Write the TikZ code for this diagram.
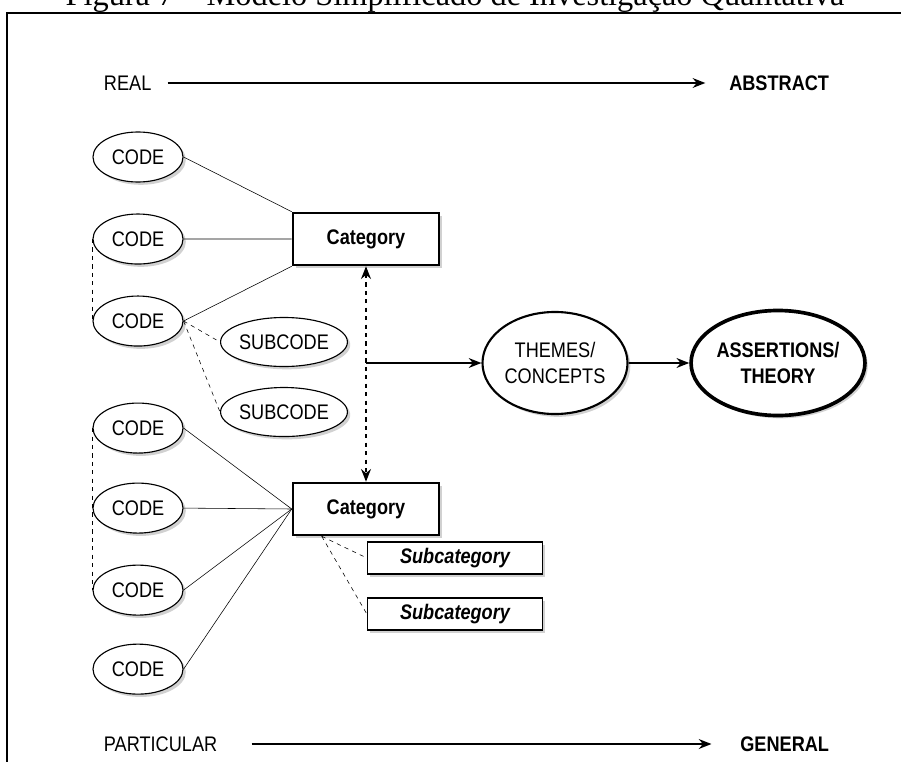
\documentclass[tikz,border=0pt]{standalone}
\usepackage{fontspec}
\setmainfont{Liberation Sans}[FakeStretch=0.86]
\newfontfamily\legendafont{Liberation Serif}
\usetikzlibrary{shapes.geometric,shadows,arrows.meta}

\begin{document}
\begin{tikzpicture}[x=0.025cm, y=-0.025cm, node distance=2.05cm,
    >={Stealth[length=9pt,width=7pt]},
    every node/.style={font=\fontsize{15}{18}\selectfont},
    shadowed/.style={drop shadow={shadow xshift=2pt, shadow yshift=-2pt, fill=black!18, opacity=1}},
    code/.style={ellipse, draw, fill=white, line width=0.8pt, minimum width=2.25cm, minimum height=1.25cm, inner sep=0pt, shadowed},
    subcode/.style={code, minimum width=2.8cm, minimum height=1.225cm},
    cat/.style={rectangle, draw, fill=white, line width=1.8pt, minimum width=3.65cm, minimum height=1.3cm, font=\fontsize{15}{18}\selectfont\bfseries, shadowed},
    subcat/.style={rectangle, draw, fill=white, line width=0.9pt, minimum width=4.375cm, minimum height=0.8cm, font=\fontsize{15}{18}\selectfont\bfseries\itshape, shadowed},
    idea/.style={ellipse, draw, fill=white, line width=1.5pt, inner sep=0pt, align=center, shadowed},
    axis/.style={->, line width=1.3pt}]

    \useasboundingbox (0,0) rectangle (901,762);
    \clip (0,0) rectangle (901,762);

    % caption and frame, cut off by the page
    \node (legenda) [anchor=base, font=\legendafont\fontsize{23}{26}\selectfont] at (455,6) {Figura 7 – Modelo Simplificado de Investigação Qualitativa};
    \draw[line width=1.4pt] (7,13) rectangle (960,820);

    % axes
    \node (real) [anchor=west] at (99,83) {REAL};
    \node (abstract) [anchor=east, font=\fontsize{15}{18}\selectfont\bfseries] at (834,83) {ABSTRACT};
    \node (particular) [anchor=west] at (99,744) {PARTICULAR};
    \node (general) [anchor=east, font=\fontsize{15}{18}\selectfont\bfseries] at (834,744) {GENERAL};
    \draw[axis, shorten <=8pt, shorten >=13.5pt] (real) -- (abstract);
    \draw[axis, shorten <=21pt, shorten >=17pt] (particular) -- (general);

    % codes
    \node (code1) [code] at (138,157) {CODE};
    \node (code2) [code, below of=code1] {CODE};
    \node (code3) [code, below of=code2] {CODE};
    \node (code4) [code, below of=code3, node distance=2.675cm] {CODE};
    \node (code5) [code, below of=code4, node distance=2cm] {CODE};
    \node (code6) [code, below of=code5] {CODE};
    \node (code7) [code, below of=code6, node distance=1.975cm] {CODE};
    \node (subc1) [subcode] at (284,342) {SUBCODE};
    \node (subc2) [subcode, below of=subc1, node distance=1.75cm] {SUBCODE};

    % categories
    \node (cat1) [cat] at (366,239) {Category};
    \node (cat2) [cat] at (366,509) {Category};
    \node (sub1) [subcat] at (455,558) {Subcategory};
    \node (sub2) [subcat, below of=sub1, node distance=1.4cm] {Subcategory};

    % themes and theory
    \node (themes) [idea, minimum width=3.625cm, minimum height=2.55cm] at (555,363) {THEMES/\\CONCEPTS};
    \node (assert) [idea, line width=2.6pt, minimum width=4.175cm, minimum height=2.625cm, font=\fontsize{15}{18}\selectfont\bfseries] at (778,363) {ASSERTIONS/\\THEORY};

    \draw (code1.east) -- (cat1.north west);
    \draw (code2.east) -- (cat1.west);
    \draw (code3.east) -- (cat1.south west);
    \draw[dashed] (code2.west) -- (code3.west);
    \draw[dashed] (code3.east) -- (subc1.west);
    \draw[dashed] (code3.east) -- (subc2.west);

    \foreach \c in {code4,code5,code6,code7}
        \draw (\c.east) -- (cat2.west);
    \draw[dashed] (code4.west) -- (code6.west);

    \coordinate (c2foot) at ([xshift=0.75cm]cat2.south west);
    \draw[dashed] (c2foot) -- (sub1.west);
    \draw[dashed] (c2foot) -- (sub2.west);

    \draw[<->, dashed, line width=1.8pt] (cat1.south) -- (cat2.north);
    \coordinate (junc) at (cat1.south |- themes.west);
    \draw[->, line width=1.3pt] (junc) -- (themes);
    \draw[->, line width=1.3pt] (themes) -- (assert);
\end{tikzpicture}
\end{document}
